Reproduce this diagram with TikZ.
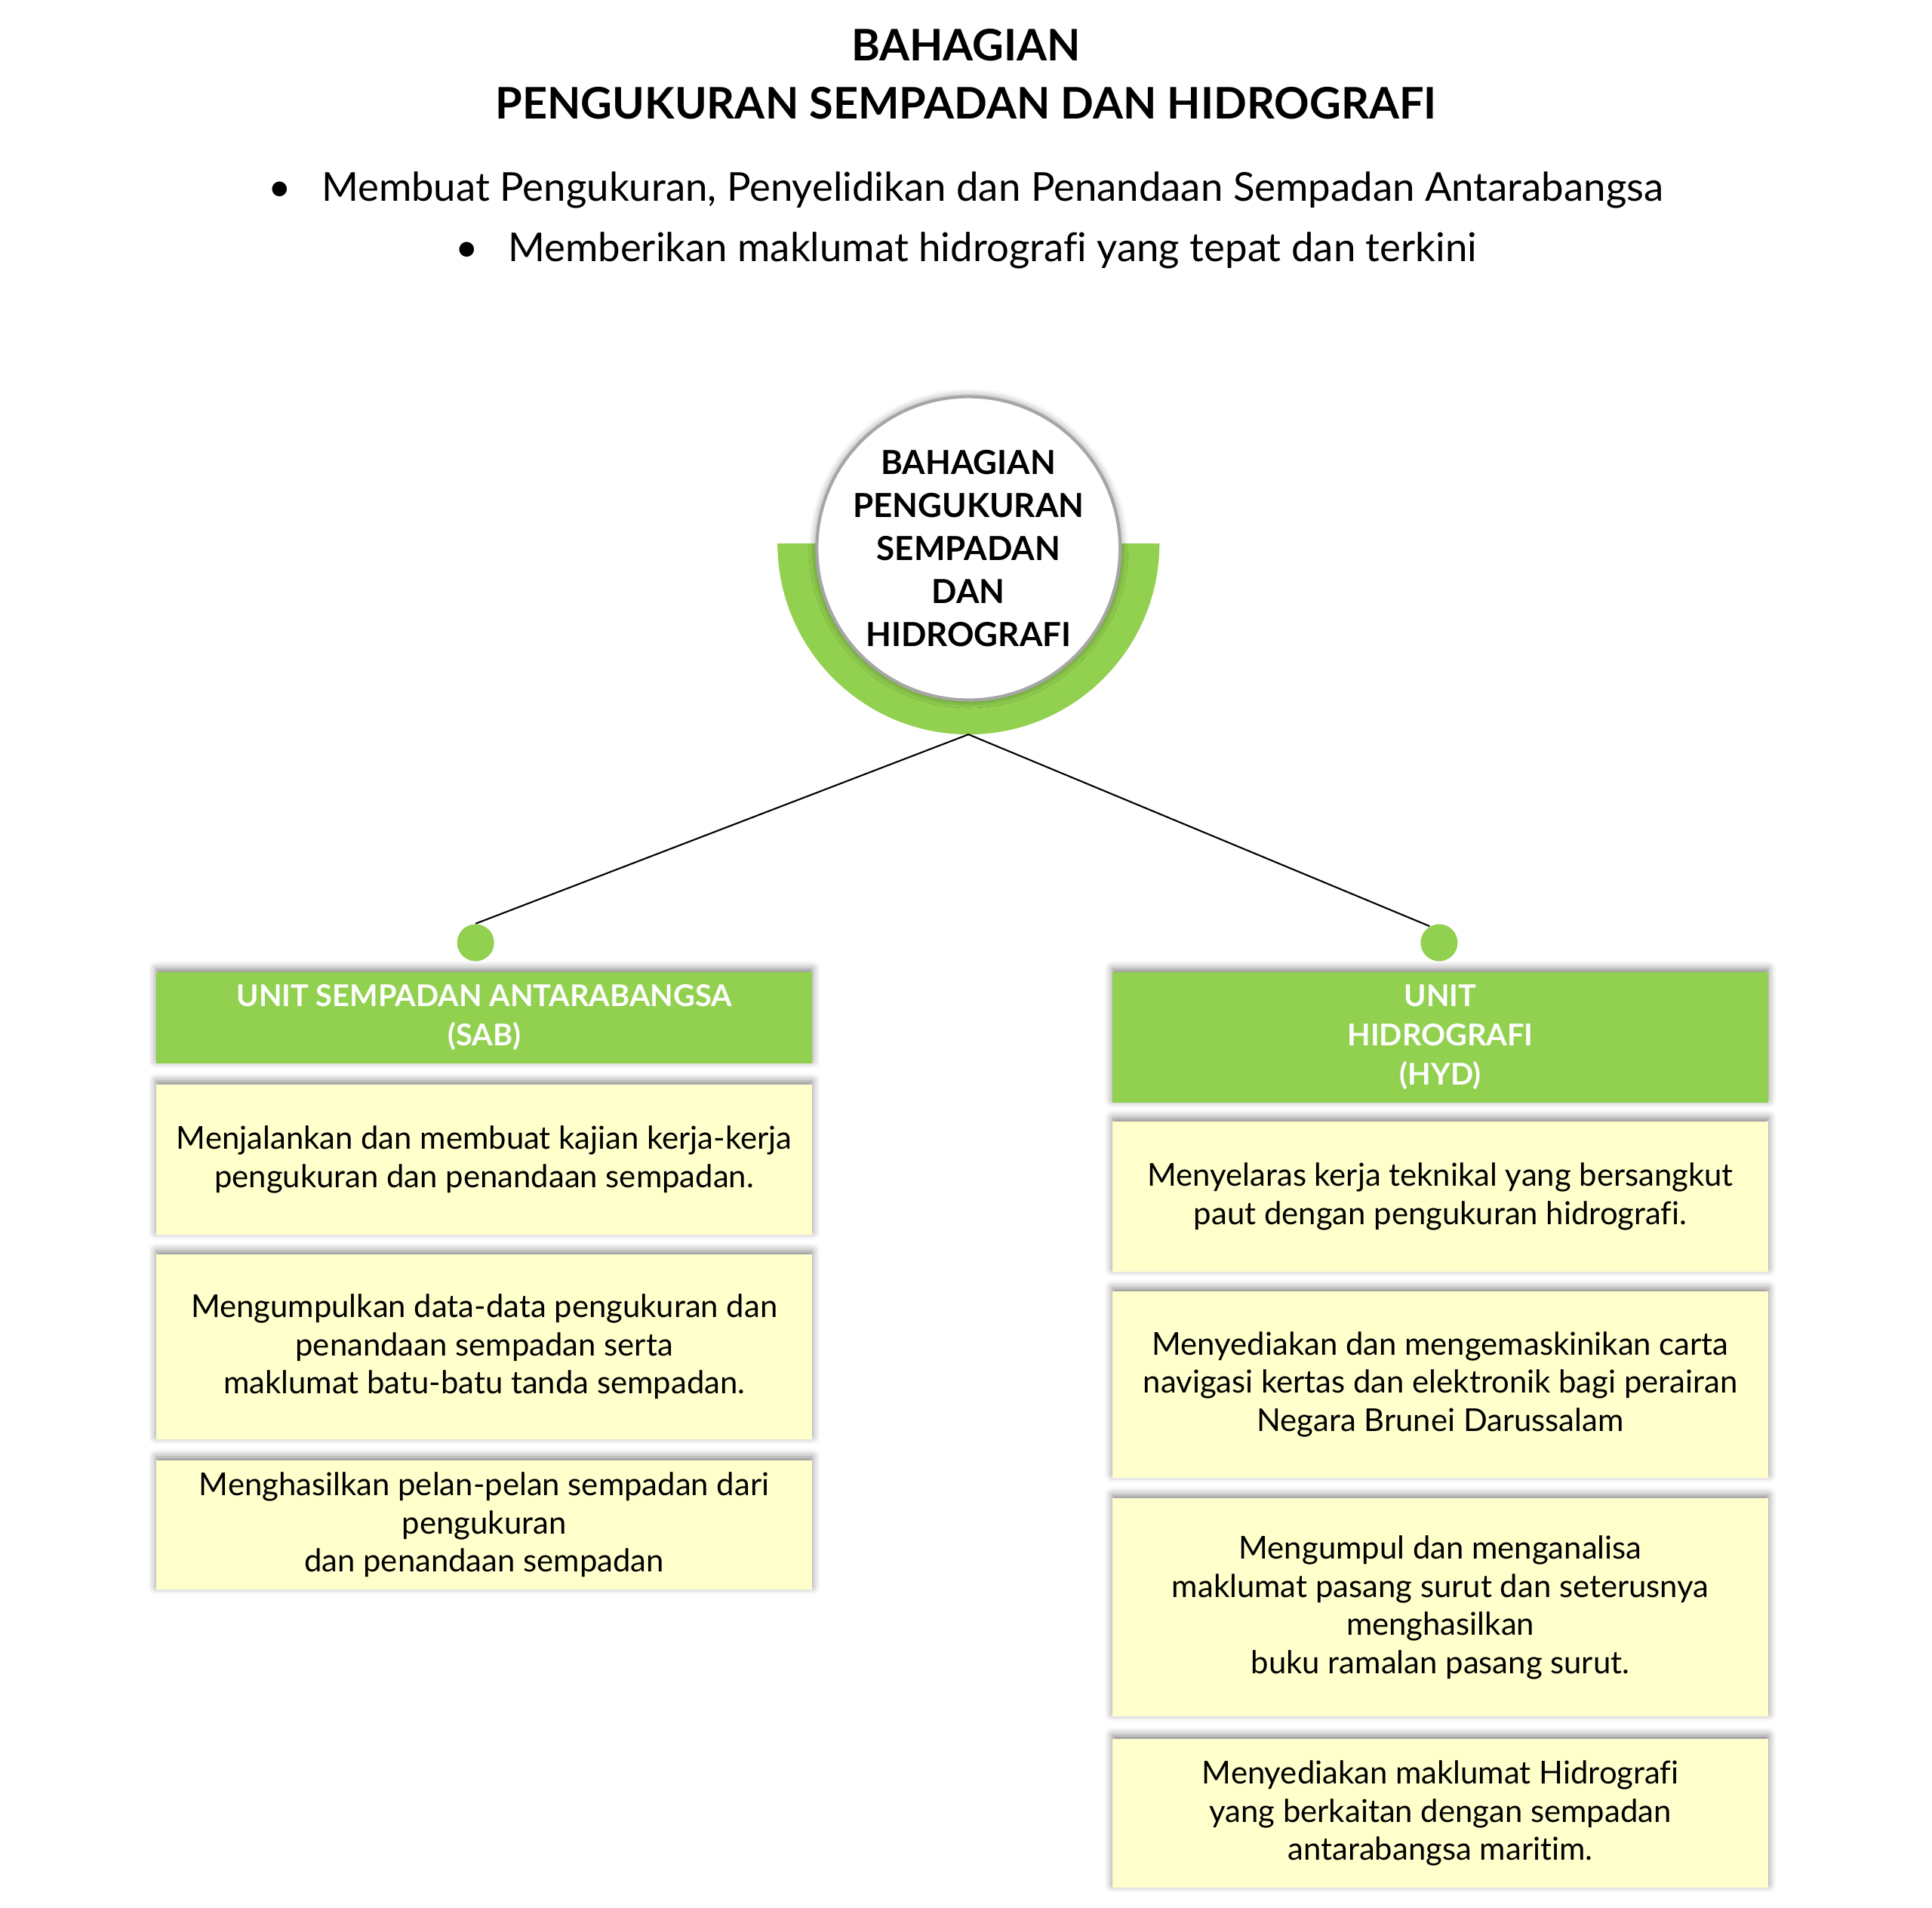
\documentclass[tikz,border=0pt]{standalone}
\usepackage{fontspec}
\setmainfont{Lato}[Ligatures=NoCommon]
\usetikzlibrary{shadows.blur}
\definecolor{hijau}{HTML}{92D050}
\definecolor{kuning}{HTML}{FFFFCC}
\definecolor{kelabu}{HTML}{A6A6A6}
\begin{document}
\begin{tikzpicture}[x=0.16327mm,y=-0.16327mm,
        bayang/.style={blur shadow={shadow xshift=0pt,shadow yshift=1.2pt,shadow blur radius=3pt,shadow opacity=50}},
        tajuk/.style={font=\fontsize{16.4}{21.8}\selectfont\bfseries,align=center},
        poin/.style={font=\fontsize{15}{17}\selectfont},
        unitbox/.style={bayang,fill=hijau,minimum width=86.86mm,inner sep=0pt,align=center,text=white,font=\fontsize{11.3}{14.8}\selectfont\bfseries},
        tugasbox/.style={bayang,fill=kuning,minimum width=86.86mm,inner sep=0pt,align=center,font=\fontsize{11.9}{14.35}\selectfont},
        titik/.style={circle,fill=hijau,minimum size=4.9mm,inner sep=0pt}]
    \useasboundingbox (0,0) rectangle (1568,1548);
    % tajuk
    \node[tajuk] (judul) at (784,60) {BAHAGIAN\\PENGUKURAN SEMPADAN DAN HIDROGRAFI};
    \node[poin] (poin1) at (784,154) {\textbullet\hspace{0.75em}Membuat Pengukuran, Penyelidikan dan Penandaan Sempadan Antarabangsa};
    \node[poin] (poin2) at (784,203) {\textbullet\hspace{0.75em}Memberikan maklumat hidrografi yang tepat dan terkini};
    % bulatan bahagian
    \fill[hijau] (631,441) arc (180:0:155) -- (909,441) arc (0:180:123) -- cycle;
    \coordinate (bawah) at (786,596);
    \node[circle,draw=kelabu,line width=1.2pt,fill=white,minimum size=40.16mm,inner sep=0pt,align=center,
          blur shadow={shadow xshift=0pt,shadow yshift=0pt,shadow blur radius=3pt,shadow opacity=50},
          font=\fontsize{12.5}{16.2}\selectfont\bfseries] (bahagian) at (786,445)
          {BAHAGIAN\\PENGUKURAN\\SEMPADAN\\DAN\\HIDROGRAFI};
    % titik dan garis
    \node[titik] (titikSAB) at (386,765) {};
    \node[titik] (titikHYD) at (1168,765) {};
    \draw[line width=0.6pt] (bawah) -- (titikSAB.north);
    \draw[line width=0.6pt] (bawah) -- (titikHYD.120);
    % unit sempadan antarabangsa
    \node[unitbox,minimum height=12.08mm] (sab) at (393,826) {UNIT SEMPADAN ANTARABANGSA\\(SAB)};
    \node[tugasbox,minimum height=19.92mm] (sab1) at (393,941) {Menjalankan dan membuat kajian kerja-kerja\\pengukuran dan penandaan sempadan.};
    \node[tugasbox,minimum height=24.49mm] (sab2) at (393,1093) {Mengumpulkan data-data pengukuran dan\\penandaan sempadan serta\\maklumat batu-batu tanda sempadan.};
    \node[tugasbox,minimum height=17.14mm] (sab3) at (393,1237.5) {Menghasilkan pelan-pelan sempadan dari\\pengukuran\\dan penandaan sempadan};
    % unit hidrografi
    \node[unitbox,minimum height=17.31mm] (hyd) at (1169,842) {UNIT\\HIDROGRAFI\\(HYD)};
    \node[tugasbox,minimum height=19.92mm] (hyd1) at (1169,971) {Menyelaras kerja teknikal yang bersangkut\\paut dengan pengukuran hidrografi.};
    \node[tugasbox,minimum height=24.65mm] (hyd2) at (1169,1123.5) {Menyediakan dan mengemaskinikan carta\\navigasi kertas dan elektronik bagi perairan\\Negara Brunei Darussalam};
    \node[tugasbox,minimum height=28.90mm] (hyd3) at (1169,1304.5) {Mengumpul dan menganalisa\\maklumat pasang surut dan seterusnya\\menghasilkan\\buku ramalan pasang surut.};
    \node[tugasbox,minimum height=19.76mm] (hyd4) at (1169,1471.5) {Menyediakan maklumat Hidrografi\\yang berkaitan dengan sempadan\\antarabangsa maritim.};
\end{tikzpicture}
\end{document}
